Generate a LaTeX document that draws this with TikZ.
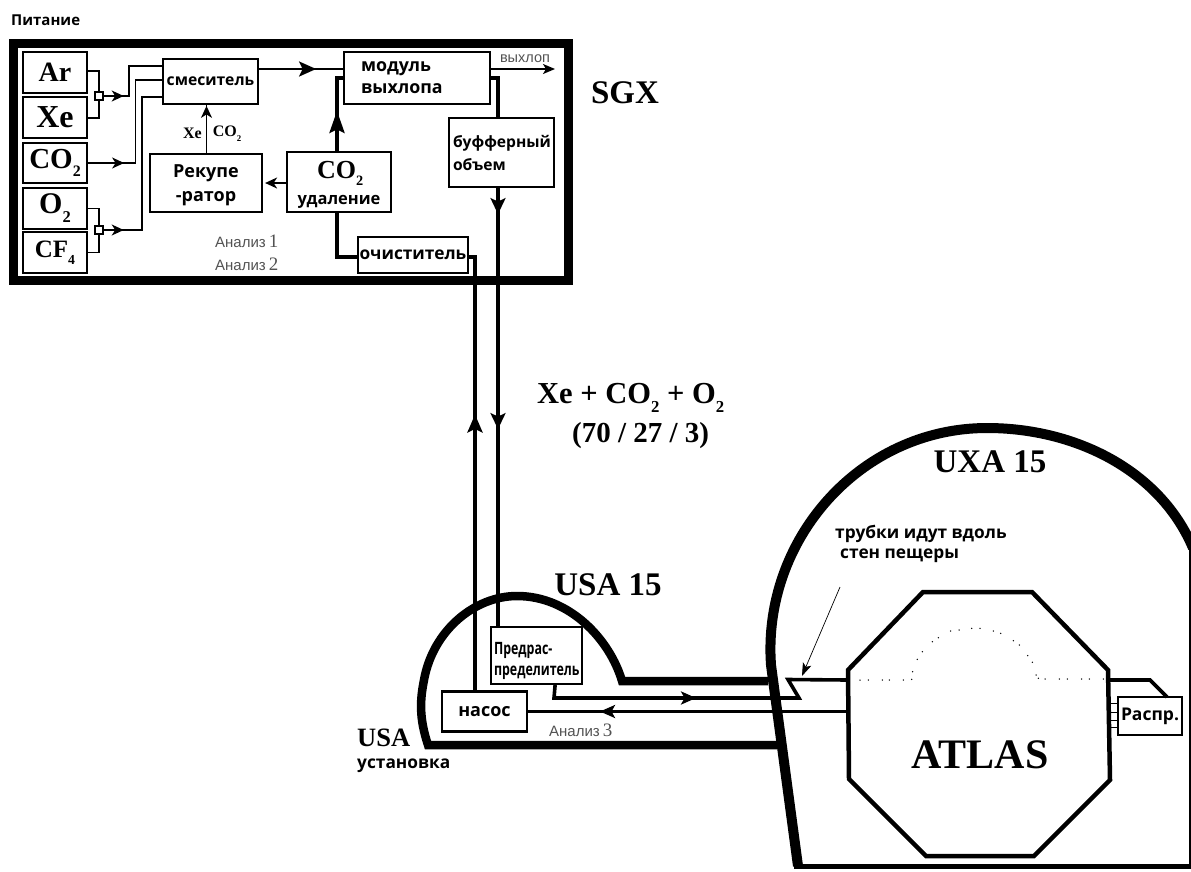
\documentclass[tikz,border=0pt]{standalone}
\usepackage{fontspec}
\setmainfont{Liberation Serif}
\setsansfont{Open Sans}
\newfontfamily\anfont{Liberation Sans}
\usetikzlibrary{arrows.meta,decorations.markings}
\newcommand{\lowtwo}[1]{\raisebox{-.3em}{\scalebox{.55}{#1}}}
\newcommand{\ser}[1]{{\rmfamily\bfseries #1}}
\newcommand{\fs}[1]{\fontsize{#1}{#1}\selectfont}
\tikzset{
  x=1pt,y=-1pt,
  frame/.style={draw=black,line width=9pt,miter limit=10},
  cave/.style={draw=black,line width=8.5pt,line join=miter},
  box/.style={draw=black,fill=white,line width=2.2pt,inner sep=0pt,align=center,font=\sffamily\fontsize{17.5}{23}\selectfont\bfseries},
  gas/.style={draw=black,fill=white,line width=2.2pt,inner sep=0pt,minimum width=64pt,font=\rmfamily\bfseries\fontsize{28}{30}\selectfont},
  junction/.style={draw=black,fill=white,line width=1.4pt,inner sep=0pt,minimum size=8pt},
  pipe/.style={line width=3.6pt,draw=black},
  wire/.style={line width=1.5pt,draw=black},
  title/.style={font=\rmfamily\bfseries\fontsize{33}{36}\selectfont,inner sep=0pt},
  ru/.style={font=\sffamily\bfseries\fontsize{17.3}{21}\selectfont,inner sep=0pt,align=left},
  an/.style={font=\anfont\fontsize{15}{16}\selectfont,text=black!68,inner sep=0pt},
  tipat/.style args={#1/#2/#3}{postaction={decorate,decoration={markings,mark=at position #1 with {\arrow{Stealth[length=#2,width=#3,inset=3.5pt]}}}}},
}
\begin{document}
\begin{tikzpicture}
\useasboundingbox (0,0) rectangle (1191,871);
% frame
\path[frame] (13.5,43.5) rectangle (568,280.5);
\node[inner sep=0pt,anchor=west,font=\sffamily\bfseries\fontsize{15}{16}\selectfont] (pit) at (11,20) {Питание};
\coordinate (ptop) at (498,78);
% gas boxes
\node[gas,minimum height=41pt] (ar) at (55,72.5) {\raisebox{-2pt}{Ar}};
\node[gas,minimum height=41pt,font=\rmfamily\bfseries\fs{32}] (xe) at (55,117.5) {\raisebox{-2pt}{Xe}};
\node[gas,minimum height=40pt,font=\rmfamily\bfseries\fs{29}] (co) at (55,163) {CO\lowtwo{2}};
\node[gas,minimum height=41pt,font=\rmfamily\bfseries\fs{30}] (ox) at (55,208.5) {O\lowtwo{2}};
\node[gas,minimum height=41pt,font=\rmfamily\bfseries\fs{25}] (cf) at (55,252.5) {CF\lowtwo{4}};
% process boxes
\node[box,minimum width=95pt,minimum height=45pt,font=\sffamily\bfseries\fs{15.7}] (mix) at (210.5,81.5) {смеситель};
\node[box,minimum width=112pt,minimum height=58pt,font=\sffamily\fontsize{18}{24}\selectfont\bfseries] (rec) at (206,183) {\rule{0pt}{18pt}Рекупе\\-ратор};
\node[box,minimum width=104pt,minimum height=60pt,font=\sffamily\fontsize{16.5}{20}\selectfont\bfseries] (rem) at (339,182) {\rule{0pt}{22pt}\hspace*{-4pt}\ser{\fs{26} CO\lowtwo{2}}\\[6pt]удаление};
\node[box,text width=112pt,inner xsep=17pt,minimum height=52pt,align=left,font=\sffamily\fontsize{17.8}{22}\selectfont\bfseries] (mod) at (417,78) {модуль\\выхлопа};
\node[box,text width=97pt,inner xsep=4pt,minimum height=69pt,align=left,font=\sffamily\fontsize{15.6}{23}\selectfont\bfseries] (buf) at (501.5,152.5) {буфферный\\объем};
\node[box,minimum width=110pt,minimum height=36pt,font=\sffamily\bfseries\fs{17.3}] (cle) at (413,255) {очиститель};
% junctions
\coordinate (jatop) at (99,96);
\coordinate (jabot) at (99,230);
\draw[wire] ([yshift=1.5pt]ar.east) -| (jatop) |- ([yshift=-.5pt]xe.east);
\draw[wire] (ox.east) -| (jabot) |- (cf.east);
\node[junction] (j1) at (jatop) {};
\node[junction] (j2) at (jabot) {};
\draw[wire,tipat=20pt/12pt/11pt] (j1.east) -- (129,96) |- ([yshift=15.5pt]mix.west);
\draw[wire,tipat=36pt/12pt/11pt] (co.east) -- (135.5,163) |- ([yshift=1.5pt]mix.west);
\draw[wire,tipat=20pt/12pt/11pt] (j2.east) -- (142,230) |- ([yshift=-15.5pt]mix.west);
\draw[wire,tipat=47pt/12pt/11pt] (rec.north -| mix.south) ++(-4,0) -- ++(0,-50);
\draw[wire,-{Stealth[length=12pt,width=11pt,inset=3.5pt]},shorten >=2pt] (rem.west |- rec.east) -- (rec.east);
\node[font=\rmfamily\bfseries\fs{16},inner sep=0pt] (lxe) at (192.5,133) {Xe};
\node[font=\rmfamily\bfseries\fs{16},inner sep=0pt] (lco) at (227,134) {CO\lowtwo{2}};
% main thick lines
\draw[line width=2.4pt,tipat=57pt/17pt/15pt] ([yshift=12.5pt]mix.east) -- ([yshift=9pt]mod.west);
\draw[pipe,tipat=40pt/22pt/15pt] ([xshift=-2pt]rem.north) -- (337,78) -- (mod.west);
\draw[pipe] ([xshift=-2pt]rem.south) |- ([yshift=-2pt]cle.west);
\draw[wire,-{Stealth[length=12pt,width=10pt,inset=3pt]}] ([yshift=9pt]mod.east) -- (555,69);
\node[an,anchor=base,font=\anfont\fs{14.5}] (vyh) at (525,62) {выхлоп};
\draw[pipe] (mod.east) -- (ptop) -- ([xshift=-3.5pt]buf.north);
\draw[pipe,tipat=26pt/16pt/15pt,tipat=241pt/16pt/15pt] ([xshift=-3.5pt]buf.south) -- (498,627) coordinate (ps);
% cavern USA
\path[cave] (777,745) -- (428,745)
  .. controls (419,718) and (420,700) .. (424,680)
  .. controls (433,630) and (475,596) .. (517,596)
  .. controls (570,596) and (610,640) .. (622,681) -- (768,681);
% boxes in USA
\node[box,text width=85pt,inner xsep=3pt,minimum height=57pt,font=\sffamily\fontsize{17}{21}\selectfont\bfseries,align=left] (pre) at (536.5,655.5) {\rule{0pt}{23pt}\scalebox{.73}[1]{Предрас-}\\\scalebox{.73}[1]{пределитель}};
\node[box,minimum width=85pt,minimum height=40pt,font=\sffamily\bfseries\fs{18}] (pump) at (484.5,711.5) {насос};
\draw[pipe,tipat=276pt/18pt/15pt] (pump.north -| 475,691) -- (475,257) -- ([yshift=-2pt]cle.east);
% octagon and cavern UXA
\path[cave,line width=10pt] (798,866) -- (771,665)
  .. controls (762,540) and (860,428) .. (987,428)
  .. controls (1075,428) and (1160,470) .. (1193,548);
\draw[line width=5pt] (794,866) -- (1191,866);
\draw[line width=2pt] (1189.5,546) -- (1189.5,866);
\draw[line width=4.5pt,fill=white,line join=miter] (848,670) -- (923,592) -- (1032,592) -- (1108,670) -- (1110,780) -- (1034,856) -- (926,856) -- (849,779) -- cycle;
\coordinate (oct-w1) at (848,680);
\coordinate (oct-w2) at (848,711.5);
\coordinate (oct-e) at (1108,680);
% tubes
\draw[pipe,tipat=155pt/15pt/13pt] ([xshift=-28pt]pre.south east) -- (554,698) -- (799,698) -- (788,679.5) -- (oct-w1);
\draw[pipe,tipat=248pt/15pt/13pt] (oct-w2) -- (pump.east);
\node[box,minimum width=64pt,minimum height=38pt,line width=1.2pt,font=\sffamily\fontsize{17.5}{18}\selectfont\bfseries] (dist) at (1150,716) {Распр.};
\draw[pipe] (oct-e) -- (1150,680) -- (1167,697);
\foreach \yy in {703,712,720,727} \draw[line width=1pt] (1110,\yy) -- (1118,\yy);
% dots
\foreach \a/\b in {300/720,325/720,367/720,388/720,430/720,455/718,458/695,472/658,487/635,517/605,535/593,572/573,597/570,635/565,660/565,700/573,722/580,760/602,778/615,803/647,817/667,828/705,835/715,855/717,898/717,922/717,965/717,988/717,1030/717}
  \fill ({760+\a/3},{440+\b/3}) circle[radius=.75pt];
% arrow to tubes
\coordinate (tail) at (840,587);
\coordinate (head) at (802,676);
\draw[line width=.7pt,-{Stealth[length=13pt,width=9pt,inset=3pt]}] (tail) -- (head);
% labels
\node[title] (sgx) at (625,93) {SGX};
\node[title] (usa15) at (608,585) {USA 15};
\node[title] (uxa15) at (990,462) {UXA 15};
\node[title,font=\rmfamily\bfseries\fs{42}] (atlas) at (980,755) {ATLAS};
\node[title,font=\rmfamily\bfseries\fs{26.5},anchor=west] (usa) at (357,738) {USA};
\node[ru,anchor=west] (ust) at (357,766) {установка};
\node[title,font=\rmfamily\bfseries\fs{30.5},anchor=base west] (mixl) at (537,403) {Xe + CO\lowtwo{2} + O\lowtwo{2}};
\node[title,font=\rmfamily\bfseries\fs{29},anchor=base west] (ratio) at (572,442) {(70 / 27 / 3)};
\node[ru,anchor=west] (tr1) at (835,534) {трубки идут вдоль};
\node[ru,anchor=west] (tr2) at (840,556) {стен пещеры};
\node[an,anchor=west] (an1) at (215,241) {Анализ\hspace{3pt}{\rmfamily\fs{19}1}};
\node[an,anchor=west] (an2) at (215,264) {Анализ\hspace{3pt}{\rmfamily\fs{19}2}};
\node[an,anchor=west] (an3) at (549,730) {Анализ\hspace{3pt}{\rmfamily\fs{19}3}};
\end{tikzpicture}
\end{document}
